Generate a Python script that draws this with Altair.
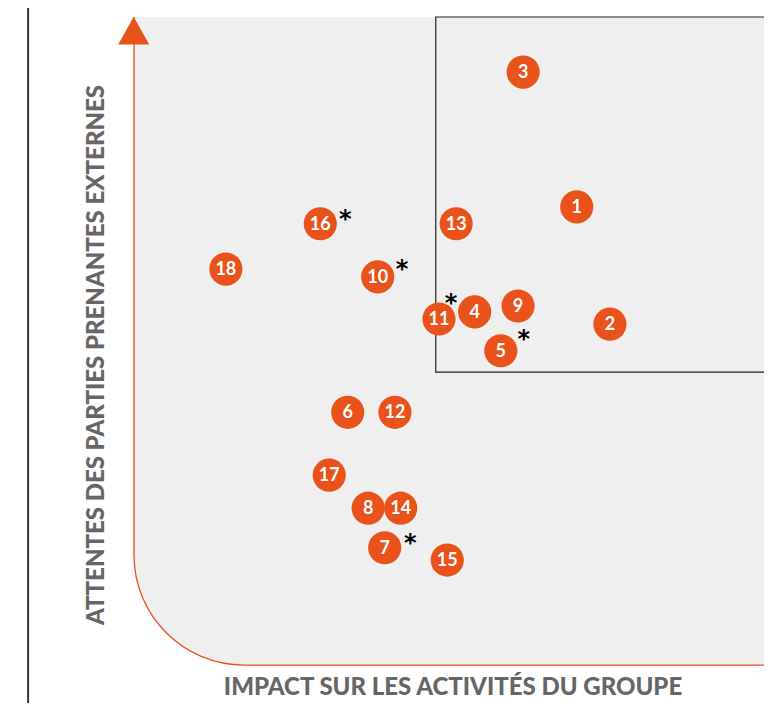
import altair as alt
import pandas as pd

# Materiality matrix values (0-100 scales)
labels = ["1", "2", "3", "4", "5", "6", "7", "8", "9", "10", "11", "12", "13", "14", "15", "16", "17", "18"]
impact = [69.4, 74.6, 61.0, 53.4, 57.5, 33.5, 39.3, 36.7, 60.2, 38.2, 47.8, 40.9, 50.5, 41.8, 49.1, 29.2, 30.6, 14.4]
attentes = [70.7, 52.6, 91.5, 54.5, 48.5, 39.0, 18.1, 24.2, 55.4, 59.9, 53.4, 39.0, 68.1, 24.2, 16.2, 68.1, 29.3, 61.1]

# asterisk markers (next to items 16, 10, 11, 5, 7)
star_impact = [33.1, 42.0, 49.7, 61.1, 43.3]
star_attentes = [69.6, 61.9, 56.6, 51.1, 19.6]

# priority zone
zone_x = [47.3]
zone_y = [45.2]

ORANGE = "#e9521a"
XDOM = [-19.75, 98.75]
YDOM = [-5.86, 101.39]

xs = alt.Scale(domain=XDOM, nice=False, zero=False)
ys = alt.Scale(domain=YDOM, nice=False, zero=False)

pts = pd.DataFrame({"label": labels, "x": impact, "y": attentes})
stars = pd.DataFrame({"x": star_impact, "y": star_attentes, "t": ["*"] * len(star_impact)})

X = lambda f="x": alt.X(f, type="quantitative", scale=xs, axis=None)
Y = lambda f="y": alt.Y(f, type="quantitative", scale=ys, axis=None)

bg = alt.Chart(pd.DataFrame({"x": [0], "x2": [130], "y": [0], "y2": [130]})).mark_rect(
    fill="#efefef", stroke=ORANGE, strokeWidth=1.3, cornerRadiusBottomLeft=110, clip=True
).encode(x=X(), x2="x2", y=Y(), y2="y2")

top_cover = alt.Chart(pd.DataFrame({"x": [-30], "x2": [130], "y": [100], "y2": [130]})).mark_rect(
    fill="white", clip=True
).encode(x=X(), x2="x2", y=Y(), y2="y2")

zone = alt.Chart(pd.DataFrame({"x": zone_x, "x2": [130], "y": zone_y, "y2": [100]})).mark_rect(
    fill=None, fillOpacity=0, stroke="#222222", strokeWidth=1.2, clip=True
).encode(x=X(), x2="x2", y=Y(), y2="y2")

vline = alt.Chart(pd.DataFrame({"x": [-16.6]})).mark_rule(
    color="#333333", strokeWidth=2
).encode(x=X())

arrow = alt.Chart(pd.DataFrame({"x": [-0.05], "y": [97.9]})).mark_point(
    shape="M-1,0.9L1,0.9L0,-0.9Z", size=961, filled=True, color=ORANGE, opacity=1, strokeWidth=0
).encode(x=X(), y=Y())

circles = alt.Chart(pts).mark_circle(size=1100, color=ORANGE, opacity=1).encode(x=X(), y=Y())

nums = alt.Chart(pts).mark_text(
    color="white", font="Lato", fontWeight="bold", fontSize=18, baseline="middle", align="center", dy=1
).encode(x=X(), y=Y(), text="label:N")

star_marks = alt.Chart(stars).mark_text(
    color="black", font="DejaVu Sans", fontWeight="bold", fontSize=24, baseline="middle", align="center", dy=6
).encode(x=X(), y=Y(), text="t:N")

xtitle = alt.Chart(pd.DataFrame({"t": ["IMPACT SUR LES ACTIVITÉS DU GROUPE"]})).mark_text(
    color="#666666", font="Lato", fontWeight=900, fontSize=24,
    baseline="middle", align="center"
).encode(x=alt.value(445), y=alt.value(680), text="t:N")

ytitle = alt.Chart(pd.DataFrame({"t": ["ATTENTES DES PARTIES PRENANTES EXTERNES"]})).mark_text(
    color="#666666", font="Lato", fontWeight=900, fontSize=24, baseline="middle", align="center", angle=270
).encode(x=alt.value(89), y=alt.value(347), text="t:N")

chart = alt.layer(
    bg, top_cover, zone, vline, arrow, circles, nums, star_marks, xtitle, ytitle
).properties(
    width=756, height=695, padding=0, autosize=alt.AutoSizeParams(type="none"), background="white"
).configure_view(stroke=None)

chart.save("out.html", embed_options={"renderer": "svg", "actions": False})
